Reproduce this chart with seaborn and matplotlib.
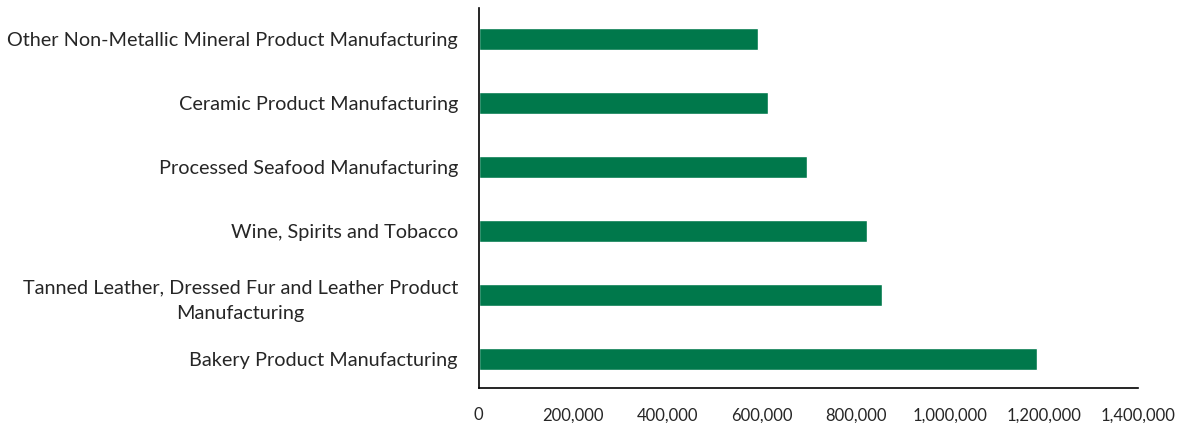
import pandas as pd
import matplotlib.pyplot as plt
import seaborn as sns

categories = [
    'Other Non-Metallic Mineral Product Manufacturing',
    'Ceramic Product Manufacturing',
    'Processed Seafood Manufacturing',
    'Wine, Spirits and Tobacco',
    'Tanned Leather, Dressed Fur and Leather Product\nManufacturing',
    'Bakery Product Manufacturing',
]
values = [593000, 615000, 697000, 825000, 857000, 1186000]
xticks = [0, 200000, 400000, 600000, 800000, 1000000, 1200000, 1400000]

df = pd.DataFrame({'category': categories, 'value': values})

sns.set_style('white')
plt.rcParams['font.family'] = ['Lato', 'DejaVu Sans']

fig = plt.figure(figsize=(11.82, 4.23), dpi=100)
ax = fig.add_axes([0.405, 0.083, 0.558, 0.898])

sns.barplot(data=df, x='value', y='category', orient='h', color='#00784B',
            width=0.345, saturation=1, ax=ax)

ax.set_xlim(0, 1400000)
ax.set_ylim(5.46, -0.49)
ax.set_xticks(xticks)
ax.set_xticklabels([f'{v:,}' for v in xticks], fontsize=12, color='#262626')
ax.tick_params(axis='x', length=0, pad=14)
ax.tick_params(axis='y', length=0, pad=15)
for lab in ax.get_yticklabels():
    lab.set_fontsize(14.3)
    lab.set_color('#262626')
    lab.set_multialignment('center')
    lab.set_linespacing(1.65)
ax.set_xlabel('')
ax.set_ylabel('')

for s in ['top', 'right']:
    ax.spines[s].set_visible(False)
for s in ['left', 'bottom']:
    ax.spines[s].set_color('black')
    ax.spines[s].set_linewidth(1.2)

plt.savefig('out.png', dpi=100)
